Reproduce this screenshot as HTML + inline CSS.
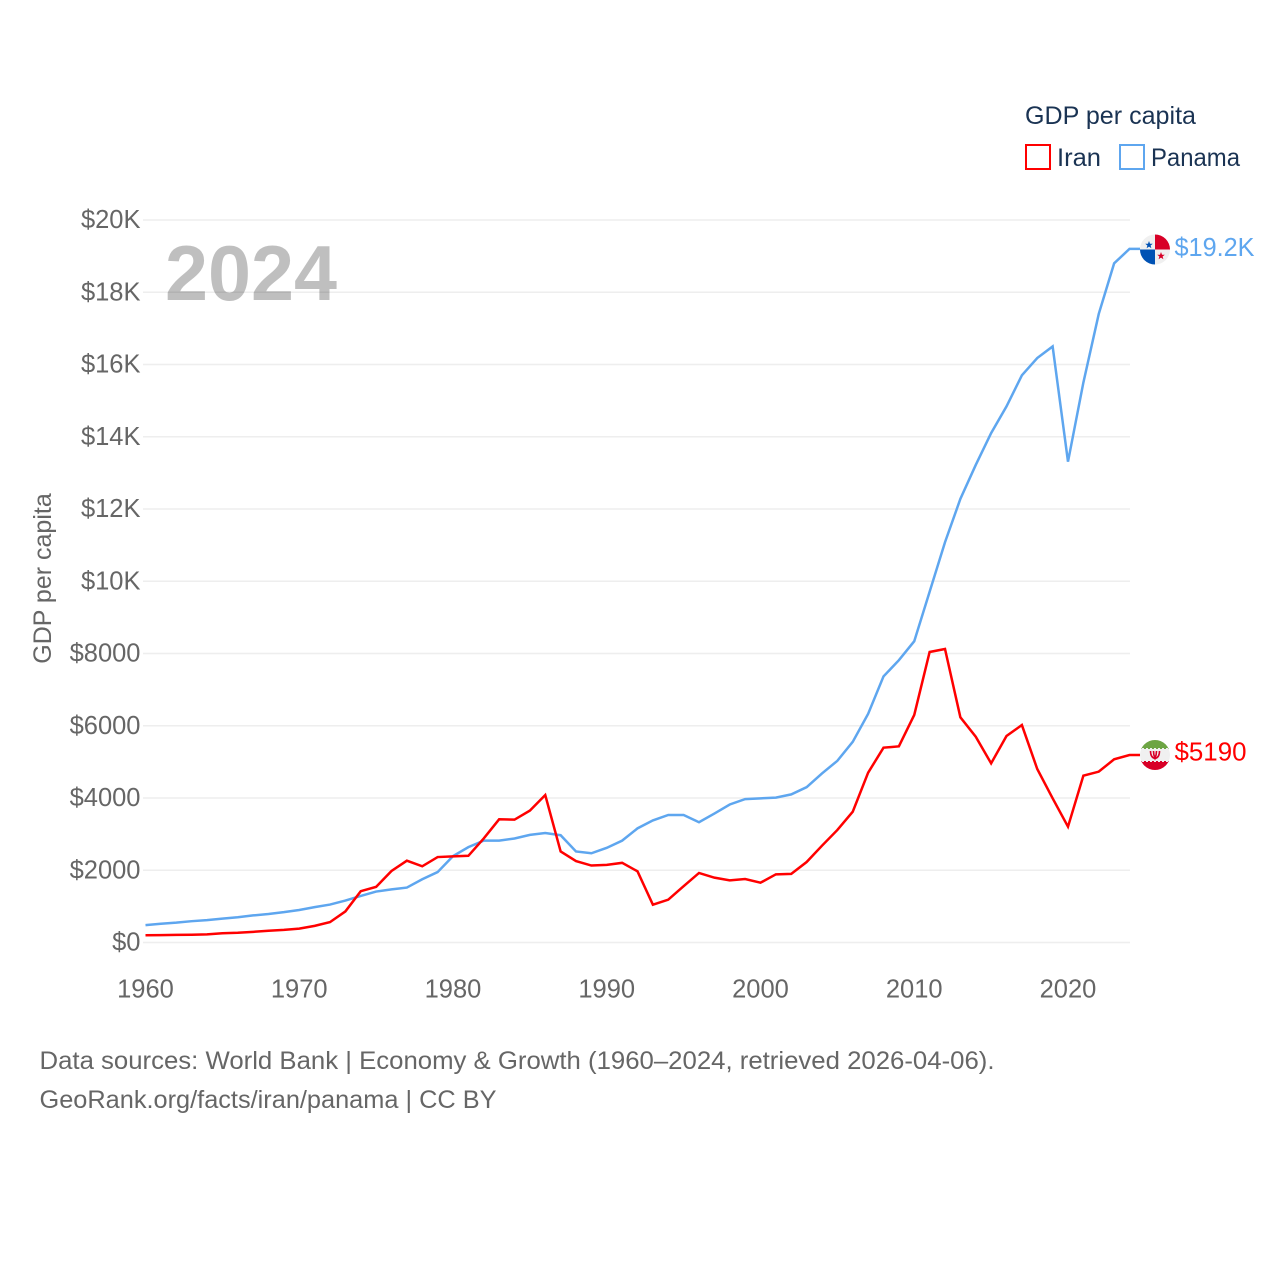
<!DOCTYPE html>
<html lang="en">
<head>
<meta charset="utf-8">
<title>GDP per capita: Iran and Panama</title>
<style>
html,body{margin:0;padding:0;background:#fff;}
svg{display:block;font-family:"Liberation Sans",Arial,sans-serif;}
</style>
</head>
<body>
<svg id="chart" xmlns="http://www.w3.org/2000/svg" width="1280" height="1280" viewBox="0 0 1280 1280">
  <defs>
    <clipPath id="flag-clip-panama"><circle cx="0" cy="0" r="15"/></clipPath>
    <clipPath id="flag-clip-iran"><circle cx="0" cy="0" r="15"/></clipPath>
  </defs>
  <rect x="0" y="0" width="1280" height="1280" fill="#fff"/>
  <g id="grid"></g>
  <g id="y-ticks"></g>
  <g id="x-ticks"></g>
  <text x="165" y="300" font-size="78" font-weight="700" fill="#000" fill-opacity="0.25" textLength="172" lengthAdjust="spacingAndGlyphs">2024</text>
  <text transform="translate(51,578.5) rotate(-90)" text-anchor="middle" font-size="25" fill="#666">GDP per capita</text>
  <g id="series"></g>
  <g id="panama-flag">
    <g clip-path="url(#flag-clip-panama)">
      <rect x="-15" y="-15" width="30" height="30" fill="#f0f0f0"/>
      <rect x="0" y="-15" width="15" height="15" fill="#d80027"/>
      <rect x="-15" y="0" width="15" height="15" fill="#0052b4"/>
      <polygon points="-6,-8.5 -5,-5.8 -2.2,-5.7 -4.4,-4 -3.6,-1.3 -6,-2.9 -8.4,-1.3 -7.6,-4 -9.8,-5.7 -7,-5.8" fill="#0052b4"/>
      <polygon points="6,2.5 7,5.2 9.8,5.3 7.6,7 8.4,9.7 6,8.1 3.6,9.7 4.4,7 2.2,5.3 5,5.2" fill="#d80027"/>
    </g>
  </g>
  <g id="iran-flag">
    <g clip-path="url(#flag-clip-iran)">
      <rect x="-15" y="-15" width="30" height="30" fill="#f0f0f0"/>
      <polygon points="-15,-15 15,-15 15,-6 13,-6 13,-7 11,-7 11,-6 9,-6 9,-7 7,-7 7,-6 5,-6 5,-7 3,-7 3,-6 1,-6 1,-7 -1,-7 -1,-6 -3,-6 -3,-7 -5,-7 -5,-6 -7,-6 -7,-7 -9,-7 -9,-6 -11,-6 -11,-7 -13,-7 -13,-6 -15,-6" fill="#6da544"/>
      <polygon points="-15,15 15,15 15,6 13,6 13,7 11,7 11,6 9,6 9,7 7,7 7,6 5,6 5,7 3,7 3,6 1,6 1,7 -1,7 -1,6 -3,6 -3,7 -5,7 -5,6 -7,6 -7,7 -9,7 -9,6 -11,6 -11,7 -13,7 -13,6 -15,6" fill="#d80027"/>
      <path d="M-4.5,-4 C-4.5,1 -2.5,3 0,3.5 C2.5,3 4.5,1 4.5,-4 M-1.5,-4 C-1.5,-1 -1,1 0,3.5 C1,1 1.5,-1 1.5,-4" fill="none" stroke="#d80027" stroke-width="1.6"/>
    </g>
  </g>
  <text id="panama-value" x="1174.5" y="256" font-size="25.5" fill="#5ea6ef" textLength="80" lengthAdjust="spacingAndGlyphs"></text>
  <text id="iran-value" x="1174.5" y="760" font-size="25.5" fill="#ff0000" textLength="72" lengthAdjust="spacingAndGlyphs"></text>

  <g>
    <text x="1025" y="124" font-size="25" fill="#1a3353" textLength="171" lengthAdjust="spacingAndGlyphs">GDP per capita</text>
    <g>
      <rect x="1026" y="145" width="24" height="24" fill="none" stroke="#ff0000" stroke-width="2"/>
      <text x="1057" y="166" font-size="25" fill="#1a3353" textLength="44" lengthAdjust="spacingAndGlyphs">Iran</text>
    </g>
    <g>
      <rect x="1120" y="145" width="24" height="24" fill="none" stroke="#5ea6ef" stroke-width="2"/>
      <text x="1151" y="166" font-size="25" fill="#1a3353" textLength="89" lengthAdjust="spacingAndGlyphs">Panama</text>
    </g>
  </g>

  <text x="39.5" y="1069" font-size="25" fill="#666" textLength="955" lengthAdjust="spacingAndGlyphs">Data sources: World Bank | Economy &amp; Growth (1960–2024, retrieved 2026-04-06).</text>
  <text x="39.5" y="1108" font-size="25" fill="#666" textLength="457" lengthAdjust="spacingAndGlyphs">GeoRank.org/facts/iran/panama | CC BY</text>
</svg>
<script>
const years = [1960,1961,1962,1963,1964,1965,1966,1967,1968,1969,1970,1971,1972,1973,1974,1975,1976,1977,1978,1979,1980,1981,1982,1983,1984,1985,1986,1987,1988,1989,1990,1991,1992,1993,1994,1995,1996,1997,1998,1999,2000,2001,2002,2003,2004,2005,2006,2007,2008,2009,2010,2011,2012,2013,2014,2015,2016,2017,2018,2019,2020,2021,2022,2023,2024];
const iranValues = [200,205,210,215,225,255,270,295,325,350,385,460,565,860,1420,1540,1980,2265,2110,2365,2385,2400,2880,3410,3400,3650,4083,2520,2255,2130,2150,2205,1970,1047,1185,1560,1925,1795,1720,1758,1655,1887,1900,2228,2680,3115,3620,4700,5393,5430,6298,8042,8125,6234,5697,4960,5716,6020,4803,3992,3206,4618,4729,5071,5190];
const panamaValues = [480,520,550,590,620,660,700,750,790,840,900,980,1050,1160,1290,1410,1470,1520,1750,1950,2390,2640,2820,2820,2880,2980,3030,2970,2520,2470,2620,2820,3160,3380,3530,3530,3330,3570,3820,3970,3990,4010,4100,4300,4680,5030,5555,6330,7365,7815,8340,9710,11080,12280,13220,14100,14840,15700,16180,16500,13310,15500,17400,18800,19200];
const yTickValues = [0,2000,4000,6000,8000,10000,12000,14000,16000,18000,20000];
const yTickLabels = ["$0","$2000","$4000","$6000","$8000","$10K","$12K","$14K","$16K","$18K","$20K"];
const xTickValues = [1960,1970,1980,1990,2000,2010,2020];
const xTickLabels = ["1960","1970","1980","1990","2000","2010","2020"];
const endLabels = ["$5190","$19.2K"];

const NS = "http://www.w3.org/2000/svg";
const plotLeft = 145.5, plotRight = 1129.5, plotZero = 942.5, plotTop = 220;
const xDomain = [1960, 2024], yDomain = [0, 20000];

function xScale(v){
  return plotLeft + (v - xDomain[0]) / (xDomain[1] - xDomain[0]) * (plotRight - plotLeft);
}
function yScale(v){
  return plotZero - (v - yDomain[0]) / (yDomain[1] - yDomain[0]) * (plotZero - plotTop);
}
function make(tag, attrs, parent){
  const el = document.createElementNS(NS, tag);
  for (const k in attrs) el.setAttribute(k, attrs[k]);
  parent.appendChild(el);
  return el;
}

const gridGroup = document.getElementById("grid");
const yGroup = document.getElementById("y-ticks");
const xGroup = document.getElementById("x-ticks");
const seriesGroup = document.getElementById("series");

yTickValues.forEach(function(v, i){
  const line = make("line", {x1: 143, x2: 1130, y1: yScale(v), y2: yScale(v), stroke: "#eeeeee", "stroke-width": 1.5}, gridGroup);
  
  
  const label = make("text", {x: 140.5, y: yScale(v) + 8, "text-anchor": "end", "font-size": 25.5, fill: "#666"}, yGroup);
  
  
  label.textContent = yTickLabels[i];
});

xTickValues.forEach(function(v, i){
  const label = make("text", {x: xScale(v), y: 997.5, "text-anchor": "middle", "font-size": 25.5, fill: "#666"}, xGroup);
  
  
  label.textContent = xTickLabels[i];
});

function drawSeries(values, color){
  const pts = values.map(function(v, i){ return xScale(years[i]).toFixed(2) + "," + yScale(v).toFixed(2); });
  const lastY = yScale(values[values.length - 1]).toFixed(2);
  pts.push("1140," + lastY);
  const poly = make("polyline", {points: pts.join(" "), fill: "none", stroke: color, "stroke-width": 2.5, "stroke-linejoin": "miter"}, seriesGroup);
  return poly;
}
const panamaLine = drawSeries(panamaValues, "#5ea6ef");


const iranLine = drawSeries(iranValues, "#ff0000");



const panamaY = yScale(panamaValues[panamaValues.length - 1]);
const iranY = yScale(iranValues[iranValues.length - 1]);
document.getElementById("panama-flag").setAttribute("transform", "translate(1155," + (panamaY + 0.6).toFixed(2) + ")");
document.getElementById("iran-flag").setAttribute("transform", "translate(1155," + iranY.toFixed(2) + ")");
const panamaText = document.getElementById("panama-value");
panamaText.setAttribute("y", (panamaY + 7).toFixed(2));
panamaText.textContent = endLabels[1];
const iranText = document.getElementById("iran-value");
iranText.setAttribute("y", (iranY + 5.5).toFixed(2));
iranText.textContent = endLabels[0];
</script>
</body>
</html>
